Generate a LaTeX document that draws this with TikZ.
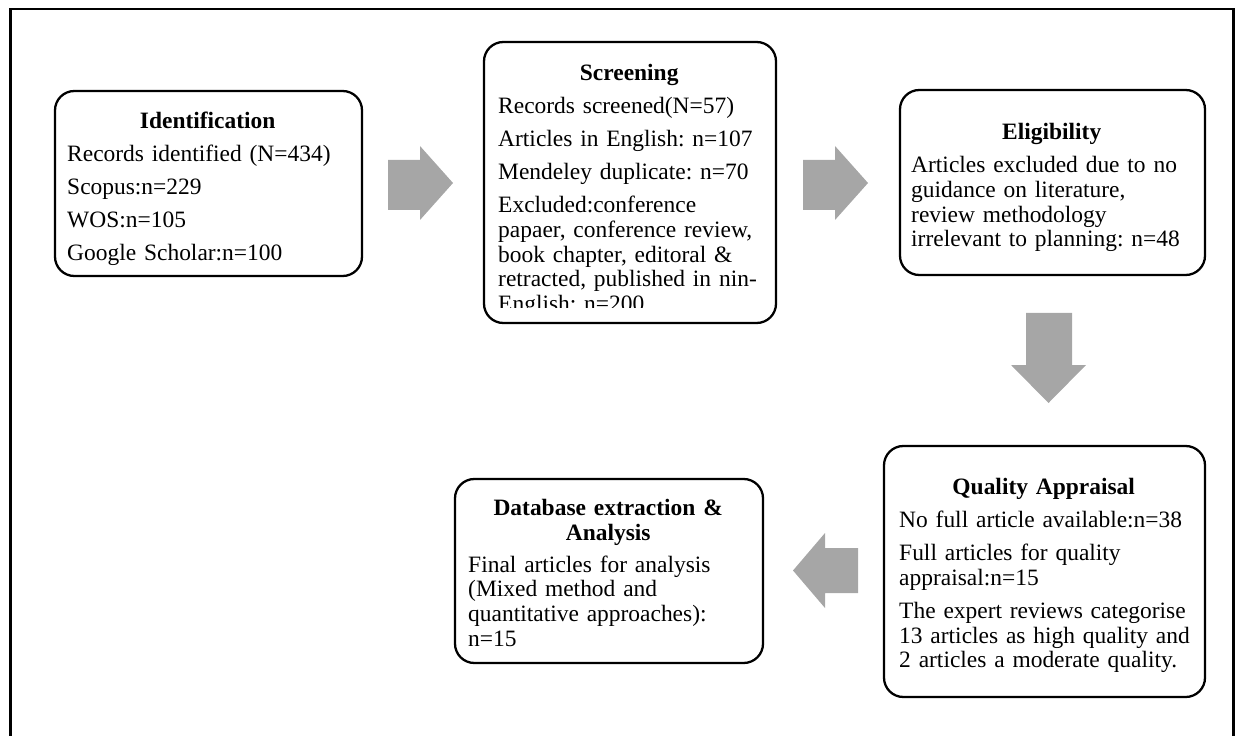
\documentclass[tikz,border=0pt]{standalone}
\usepackage{fontspec}
\setmainfont{Liberation Serif}
\frenchspacing
\usetikzlibrary{positioning,fit,calc}
\definecolor{arrowgray}{RGB}{166,166,166}
\tikzstyle{stagebox} = [rectangle, rounded corners=11pt, draw=black, line width=1.3pt, inner sep=0pt]
\tikzstyle{stagetext} = [anchor=base west, inner sep=0pt, align=left, text width=6.4cm, font=\fontsize{13.35}{14}\selectfont, execute at begin node={\setlength{\parskip}{4.8pt}}]
\tikzstyle{blockarrow} = [fill=arrowgray, draw=none]
\tikzstyle{frame} = [line width=1.7pt]
\newcommand{\stagetitle}[2]{\parbox[t]{#1}{\centering\bfseries #2}\par}

\begin{document}
\begin{tikzpicture}[x=0.02cm, y=-0.02cm]
\useasboundingbox (0,0) rectangle (1240,736);
\draw [frame] (10.5,745) -- (10.5,9) -- (1233,9) -- (1233,745);

% boxes
\node (ident) [stagebox, fit={(55,91) (362,276)}] {};
\node (screen) [stagebox, fit={(484,42) (776,323)}] {};
\node (elig) [stagebox, fit={(900,90) (1205,275)}] {};
\node (quality) [stagebox, fit={(884,446) (1205,697)}] {};
\node (extract) [stagebox, fit={(455,479) (763,663)}] {};

% texts
\node (identtxt) [stagetext] at ($(ident.north west)+(13,39)$) {\stagetitle{5.62cm}{Identification}
Records identified (N=434)\par
Scopus:n=229\par
WOS:n=105\par
Google Scholar:n=100};

\begin{scope}
\clip (484,42) rectangle (776,308);
\node (screentxt) [stagetext] at ($(screen.north west)+(15,40)$) {\stagetitle{5.24cm}{Screening}
Records screened(N=57)\par
Articles in English: n=107\par
Mendeley duplicate: n=70\par
Excluded:conference\\
papaer, conference review,\\
book chapter, editoral \&\\
retracted, published in nin-\\
English: n=200};
\end{scope}

\node (eligtxt) [stagetext] at ($(elig.north west)+(12,51)$) {\stagetitle{5.62cm}{Eligibility}
Articles excluded due to no\\
guidance on literature,\\
review methodology\\
irrelevant to planning: n=48};

\node (qualitytxt) [stagetext] at ($(quality.north west)+(16,50)$) {\stagetitle{5.78cm}{Quality Appraisal}
No full article available:n=38\par
Full articles for quality\\
appraisal:n=15\par
The expert reviews categorise\\
13 articles as high quality and\\
2 articles a moderate quality.};

\node (extracttxt) [stagetext] at ($(extract.north west)+(14,38)$) {\stagetitle{5.6cm}{Database extraction \&\\Analysis}
Final articles for analysis\\
(Mixed method and\\
quantitative approaches):\\
n=15};

% block arrows
\fill [blockarrow] (388,160) -- (420,160) -- (420,146) -- (453,183) -- (420,220) -- (420,210) -- (388,210) -- cycle;
\fill [blockarrow] (803,160) -- (835,160) -- (835,146) -- (868,183) -- (835,220) -- (835,210) -- (803,210) -- cycle;
\fill [blockarrow] (1026,313) -- (1072,313) -- (1072,365) -- (1086,365) -- (1048.5,403) -- (1011,365) -- (1026,365) -- cycle;
\fill [blockarrow] (858,548) -- (825,548) -- (825,533) -- (793,570.5) -- (825,608) -- (825,593) -- (858,593) -- cycle;
\end{tikzpicture}
\end{document}
